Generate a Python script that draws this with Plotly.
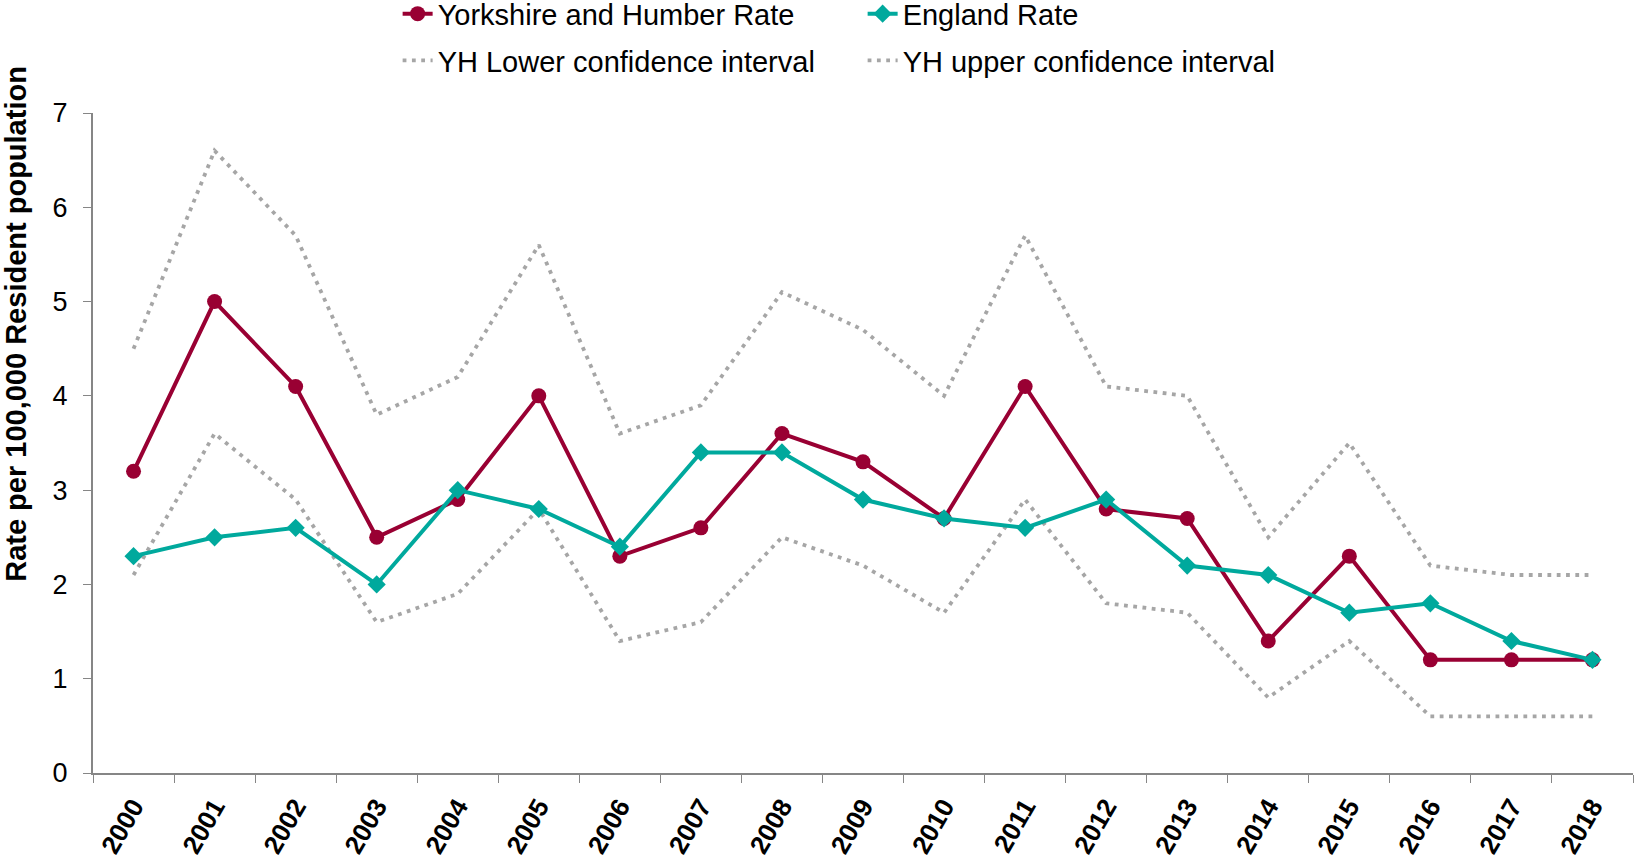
import plotly.graph_objects as go

years = [str(y) for y in range(2000, 2019)]
yh_rate = [3.2, 5.0, 4.1, 2.5, 2.9, 4.0, 2.3, 2.6, 3.6, 3.3, 2.7, 4.1, 2.8, 2.7, 1.4, 2.3, 1.2, 1.2, 1.2]
england_rate = [2.3, 2.5, 2.6, 2.0, 3.0, 2.8, 2.4, 3.4, 3.4, 2.9, 2.7, 2.6, 2.9, 2.2, 2.1, 1.7, 1.8, 1.4, 1.2]
yh_lower = [2.1, 3.6, 2.9, 1.6, 1.9, 2.8, 1.4, 1.6, 2.5, 2.2, 1.7, 2.9, 1.8, 1.7, 0.8, 1.4, 0.6, 0.6, 0.6]
yh_upper = [4.5, 6.6, 5.7, 3.8, 4.2, 5.6, 3.6, 3.9, 5.1, 4.7, 4.0, 5.7, 4.1, 4.0, 2.5, 3.5, 2.2, 2.1, 2.1]

FONT = "Liberation Sans, Arial, sans-serif"
RED = "#990033"
TEAL = "#00A99D"
GREY = "#A6A6A6"

fig = go.Figure()
fig.add_trace(go.Scatter(x=years, y=yh_lower, name="YH Lower confidence interval", mode="lines",
                         line=dict(color=GREY, width=3.8, dash="3.8px,5.5px"), legend="legend2"))
fig.add_trace(go.Scatter(x=years, y=yh_upper, name="YH upper confidence interval", mode="lines",
                         line=dict(color=GREY, width=3.8, dash="3.8px,5.5px"), legend="legend2"))
fig.add_trace(go.Scatter(x=years, y=yh_rate, name="Yorkshire and Humber Rate", mode="lines+markers",
                         line=dict(color=RED, width=4), marker=dict(symbol="circle", size=15, color=RED),
                         legend="legend"))
fig.add_trace(go.Scatter(x=years, y=england_rate, name="England Rate", mode="lines+markers",
                         line=dict(color=TEAL, width=4), marker=dict(symbol="diamond", size=14, color=TEAL),
                         legend="legend"))

fig.update_layout(
    width=1635, height=864,
    margin=dict(l=93, r=2, t=113, b=91, autoexpand=False),
    paper_bgcolor="white", plot_bgcolor="white",
    font=dict(family=FONT, color="black", size=27),
    showlegend=True,
    legend=dict(orientation="h", xref="container", yref="container", x=0.2432, y=0.984,
                xanchor="left", yanchor="middle", font=dict(size=29), entrywidth=420,
                entrywidthmode="pixels", traceorder="normal", bgcolor="rgba(0,0,0,0)"),
    legend2=dict(orientation="h", xref="container", yref="container", x=0.2432, y=0.930,
                 xanchor="left", yanchor="middle", font=dict(size=29), entrywidth=420,
                 entrywidthmode="pixels", traceorder="normal", bgcolor="rgba(0,0,0,0)"),
    xaxis=dict(type="category", range=[-0.5, 18.5], tickson="boundaries", ticks="outside",
               ticklen=8, tickcolor="#868686", showline=True, linecolor="#868686", linewidth=2,
               showgrid=False, tickangle=-60, automargin=False, ticklabelstandoff=6,
               tickfont=dict(size=26, family=FONT, weight="bold")),
    yaxis=dict(range=[0, 7], dtick=1, ticks="outside", ticklen=8, tickcolor="#868686",
               showline=True, linecolor="#868686", linewidth=2, showgrid=False, zeroline=False,
               automargin=False, ticklabelstandoff=10, tickfont=dict(size=27)),
    annotations=[dict(text="<b>Rate per 100,000 Resident population</b>", textangle=-90,
                      xref="paper", yref="paper", x=-77 / 1540, y=0.6806, xanchor="center",
                      yanchor="middle", showarrow=False, font=dict(size=29, family=FONT))],
)

fig.write_html("out.html", config={"displayModeBar": False},
               post_script="document.body.style.margin='0';document.body.style.overflow='hidden';")
